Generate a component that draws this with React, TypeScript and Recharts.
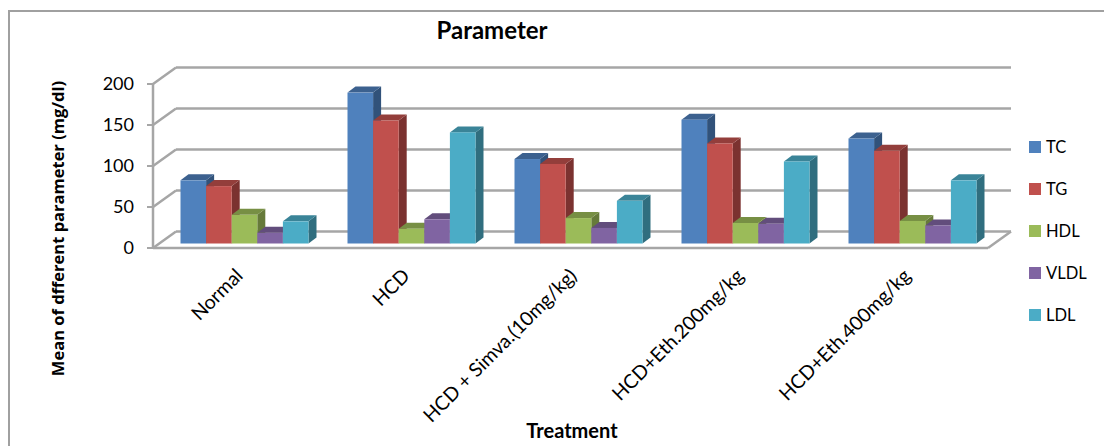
import { Bar, BarChart, CartesianGrid, Legend, XAxis, YAxis } from "recharts";

const treatments = ["Normal", "HCD", "HCD + Simva.(10mg/kg)", "HCD+Eth.200mg/kg", "HCD+Eth.400mg/kg"];
const tc = [77, 184, 103, 151, 128];
const tg = [70, 150, 97, 122, 113];
const hdl = [35, 18, 31, 25, 27.5];
const vldl = [13, 29.5, 19, 24, 22];
const ldl = [27, 135.5, 52, 100, 77];
const yTicks = [0, 50, 100, 150, 200];

const seriesList = [
  { name: "TC", values: tc, front: "#4f81bd", top: "#3c618f", side: "#31527a" },
  { name: "TG", values: tg, front: "#c0504d", top: "#933e3b", side: "#7b3230" },
  { name: "HDL", values: hdl, front: "#9bbb59", top: "#778f44", side: "#667a3a" },
  { name: "VLDL", values: vldl, front: "#8064a2", top: "#624d7c", side: "#52406a" },
  { name: "LDL", values: ldl, front: "#4bacc6", top: "#3a8498", side: "#306e7f" },
];

const chartData = treatments.map((t, i) => {
  const row: Record<string, string | number> = { treatment: t };
  seriesList.forEach((s) => {
    row[s.name] = s.values[i];
  });
  return row;
});

const FONT = "Lato, sans-serif";
const DEPTH_X = 8;
const DEPTH_Y = 6;
const WALL = "#a6a6a6";
const PLOT_TOP = 79.5;
const PLOT_BOTTOM = 243.5;

function Bar3D(props: any) {
  const { x, y, width, height, colors } = props;
  const r = x + width;
  const b = y + height;
  return (
    <g>
      <polygon
        points={`${r},${y} ${r + DEPTH_X},${y - DEPTH_Y} ${r + DEPTH_X},${b - DEPTH_Y} ${r},${b}`}
        fill={colors.side}
      />
      <polygon
        points={`${x},${y} ${x + DEPTH_X},${y - DEPTH_Y} ${r + DEPTH_X},${y - DEPTH_Y} ${r},${y}`}
        fill={colors.top}
      />
      <rect x={x} y={y} width={width} height={height} fill={colors.front} />
    </g>
  );
}

// grid lines sit under the bars: back wall line, side wall diagonal, floor edges
function WallLine(props: any) {
  const y = props.y1;
  const frontY = y + 4.5;
  const backY = frontY - 16.5;
  const isFloor = Math.abs(y - PLOT_BOTTOM) < 1;
  const isTop = Math.abs(y - PLOT_TOP) < 1;
  return (
    <g key={props.key}>
      <line x1={176} y1={backY} x2={1011} y2={backY} stroke={WALL} strokeWidth={2.5} />
      <line x1={153} y1={frontY} x2={176} y2={backY} stroke={WALL} strokeWidth={2.5} />
      {isFloor && (
        <>
          <line x1={153} y1={frontY} x2={988} y2={frontY} stroke={WALL} strokeWidth={2.5} />
          <line x1={988} y1={frontY} x2={1011} y2={backY} stroke={WALL} strokeWidth={2.5} />
        </>
      )}
      {isTop && <line x1={153} y1={frontY} x2={153} y2={frontY + 164} stroke={WALL} strokeWidth={2.5} />}
    </g>
  );
}

function ValueTick(props: any) {
  const { y, payload } = props;
  const frontY = y + 4.5;
  return (
    <g>
      <line x1={147} y1={frontY} x2={153} y2={frontY} stroke={WALL} strokeWidth={2} />
      <text x={134} y={frontY + 6} textAnchor="end" fontFamily={FONT} fontSize={18} fill="#000">
        {payload.value}
      </text>
    </g>
  );
}

function CategoryTick(props: any) {
  const { x, payload } = props;
  return (
    <text
      transform={`translate(${x},277) rotate(-45)`}
      textAnchor="end"
      fontFamily={FONT}
      fontSize={19.5}
      fill="#000"
    >
      {payload.value}
    </text>
  );
}

function LegendBox() {
  return (
    <div style={{ position: "relative", width: 75, height: 210, fontFamily: FONT, fontSize: 16.5, color: "#000" }}>
      {seriesList.map((s, i) => (
        <div key={s.name} style={{ position: "absolute", top: i * 42, left: 0, height: 24, display: "flex", alignItems: "center" }}>
          <span style={{ width: 12, height: 12, background: s.front, marginRight: 5, display: "inline-block" }} />
          {s.name}
        </div>
      ))}
    </div>
  );
}

export default function App() {
  return (
    <div style={{ position: "absolute", left: 0, top: 0, width: 1104, height: 446, background: "#fff", overflow: "hidden" }}>
      <div
        style={{
          position: "absolute",
          left: 8,
          top: 10,
          width: 1096,
          height: 436,
          borderLeft: "2px solid #a0a0a0",
          borderTop: "2px solid #a0a0a0",
        }}
      />
      <div
        style={{
          position: "absolute",
          left: 292,
          top: 15,
          width: 400,
          textAlign: "center",
          fontFamily: FONT,
          fontWeight: 700,
          fontSize: 24,
          lineHeight: "30px",
          color: "#000",
        }}
      >
        Parameter
      </div>
      <div style={{ position: "absolute", left: 0, top: 0 }}>
        <BarChart
          width={1104}
          height={446}
          data={chartData}
          margin={{ top: PLOT_TOP, right: 33.5, left: 100.5, bottom: 2.5 }}
          barSize={25.6}
          barGap={0}
        >
          <CartesianGrid vertical={false} horizontal={(p: any) => <WallLine {...p} />} />
          <XAxis
            dataKey="treatment"
            height={200}
            interval={0}
            axisLine={false}
            tickLine={false}
            tick={<CategoryTick />}
            label={{
              value: "Treatment",
              position: "insideBottom",
              dx: -6,
              dy: -1,
              fontFamily: FONT,
              fontWeight: 700,
              fontSize: 20,
              fill: "#000",
            }}
          />
          <YAxis
            domain={[0, 200]}
            ticks={yTicks}
            width={60}
            axisLine={false}
            tickLine={false}
            tick={<ValueTick />}
            label={{
              value: "Mean of dfferent parameter (mg/dl)",
              angle: -90,
              position: "insideLeft",
              dx: -47,
              dy: 67,
              fontFamily: "'Open Sans', sans-serif",
              fontWeight: 700,
              fontSize: 16.5,
              fill: "#000",
              style: { textAnchor: "middle" },
            }}
          />
          <Legend
            layout="vertical"
            align="right"
            verticalAlign="top"
            wrapperStyle={{ position: "absolute", left: 1029, top: 135, width: 75 }}
            content={<LegendBox />}
          />
          {seriesList.map((s) => (
            <Bar
              key={s.name}
              dataKey={s.name}
              fill={s.front}
              isAnimationActive={false}
              shape={(p: any) => <Bar3D {...p} colors={s} />}
            />
          ))}
        </BarChart>
      </div>
    </div>
  );
}
